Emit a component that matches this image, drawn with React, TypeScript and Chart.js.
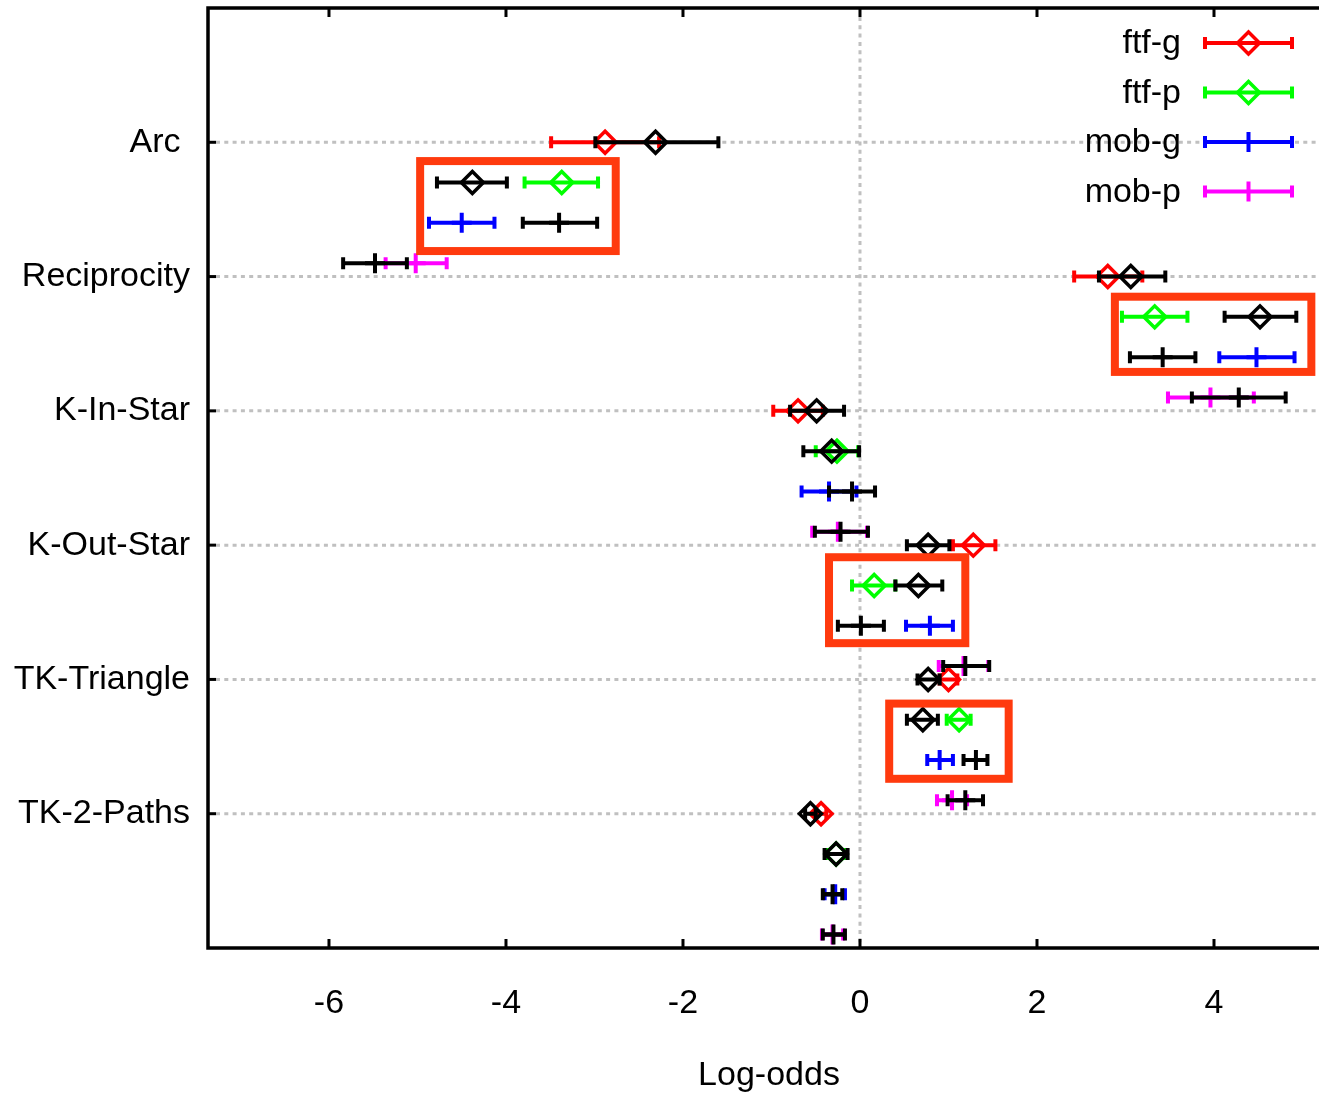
import React, { useEffect, useRef } from 'react';
import { Chart, registerables } from 'chart.js';

Chart.register(...registerables);

// ---------- data ----------
const categories = ['Arc ', 'Reciprocity', 'K-In-Star', 'K-Out-Star', 'TK-Triangle', 'TK-2-Paths'];
const seriesNames = ['ftf-g', 'ftf-p', 'mob-g', 'mob-p'];
const seriesColors = ['#ff0000', '#00ff00', '#0000ff', '#ff00ff'];
const seriesMarkers = ['rectRot', 'rectRot', 'cross', 'cross'];
const refColor = '#000000';
const xTickValues = [-6, -4, -2, 0, 2, 4];
const xAxisTitle = 'Log-odds';

// ftf-g (coloured) and its black comparison
const ftfG_est = [-2.88, 2.80, -0.70, 1.28, 1.00, -0.44];
const ftfG_lo = [-3.49, 2.42, -0.98, 1.05, 0.90, -0.50];
const ftfG_hi = [-2.27, 3.19, -0.42, 1.53, 1.10, -0.38];
const ftfG_ref_est = [-2.31, 3.06, -0.49, 0.77, 0.77, -0.56];
const ftfG_ref_lo = [-2.99, 2.70, -0.79, 0.53, 0.65, -0.62];
const ftfG_ref_hi = [-1.60, 3.45, -0.18, 1.01, 0.90, -0.50];

// ftf-p
const ftfP_est = [-3.37, 3.33, -0.26, 0.16, 1.12, -0.27];
const ftfP_lo = [-3.79, 2.96, -0.50, -0.09, 0.98, -0.38];
const ftfP_hi = [-2.96, 3.70, -0.02, 0.40, 1.25, -0.16];
const ftfP_ref_est = [-4.38, 4.52, -0.32, 0.66, 0.71, -0.27];
const ftfP_ref_lo = [-4.78, 4.12, -0.64, 0.40, 0.53, -0.40];
const ftfP_ref_hi = [-3.99, 4.93, -0.01, 0.93, 0.88, -0.14];

// mob-g
const mobG_est = [-4.50, 4.48, -0.35, 0.79, 0.90, -0.28];
const mobG_lo = [-4.87, 4.06, -0.66, 0.52, 0.76, -0.40];
const mobG_hi = [-4.13, 4.91, -0.04, 1.05, 1.05, -0.17];
const mobG_ref_est = [-3.40, 3.42, -0.09, 0.01, 1.31, -0.31];
const mobG_ref_lo = [-3.81, 3.05, -0.35, -0.25, 1.17, -0.42];
const mobG_ref_hi = [-2.97, 3.79, 0.17, 0.27, 1.44, -0.20];

// mob-p
const mobP_est = [-5.02, 3.96, -0.25, 1.17, 1.04, -0.31];
const mobP_lo = [-5.36, 3.48, -0.54, 0.89, 0.87, -0.43];
const mobP_hi = [-4.67, 4.45, 0.08, 1.45, 1.21, -0.19];
const mobP_ref_est = [-5.48, 4.28, -0.22, 1.19, 1.19, -0.30];
const mobP_ref_lo = [-5.84, 3.75, -0.51, 0.94, 0.99, -0.42];
const mobP_ref_hi = [-5.12, 4.81, 0.09, 1.46, 1.39, -0.17];

// highlight boxes in data units: [xMin, xMax, yMin, yMax]
const highlightBoxes = [
  [-4.97, -2.76, 0.14, 0.81],
  [2.88, 5.10, 1.15, 1.71],
  [-0.35, 1.19, 3.09, 3.73],
  [0.33, 1.68, 4.18, 4.74],
];

// ---------- layout constants ----------
const rowOffsets = [0, 0.3, 0.6, 0.9];
const FONT = '"Liberation Sans", Arial, Helvetica, sans-serif';
const FONT_SIZE = 34;
const CANVAS_W = 1330;
const CANVAS_H = 1099;

const seriesData = [
  { est: ftfG_est, lo: ftfG_lo, hi: ftfG_hi, rEst: ftfG_ref_est, rLo: ftfG_ref_lo, rHi: ftfG_ref_hi },
  { est: ftfP_est, lo: ftfP_lo, hi: ftfP_hi, rEst: ftfP_ref_est, rLo: ftfP_ref_lo, rHi: ftfP_ref_hi },
  { est: mobG_est, lo: mobG_lo, hi: mobG_hi, rEst: mobG_ref_est, rLo: mobG_ref_lo, rHi: mobG_ref_hi },
  { est: mobP_est, lo: mobP_lo, hi: mobP_hi, rEst: mobP_ref_est, rLo: mobP_ref_lo, rHi: mobP_ref_hi },
];

// draw sequence (first = bottom): coloured estimate, then black comparison on top
const drawSeq: { s: number; ref: boolean }[] = [
  { s: 0, ref: false }, { s: 0, ref: true },
  { s: 1, ref: false }, { s: 1, ref: true },
  { s: 2, ref: false }, { s: 2, ref: true },
  { s: 3, ref: false }, { s: 3, ref: true },
];

const DIAMOND_R = 11;
const CROSS_R = 10;

function buildDatasets() {
  return drawSeq.map((d, k) => {
    const sd = seriesData[d.s];
    const est = d.ref ? sd.rEst : sd.est;
    const lo = d.ref ? sd.rLo : sd.lo;
    const hi = d.ref ? sd.rHi : sd.hi;
    const color = d.ref ? refColor : seriesColors[d.s];
    const marker = seriesMarkers[d.s];
    return {
      label: d.ref ? seriesNames[d.s] + ' (ref)' : seriesNames[d.s],
      order: 100 - k,
      data: categories.map((_, i) => ({ x: est[i], y: i + rowOffsets[d.s], xMin: lo[i], xMax: hi[i] })),
      borderColor: color,
      backgroundColor: 'rgba(0,0,0,0)',
      pointStyle: marker,
      pointRadius: marker === 'cross' ? CROSS_R : DIAMOND_R,
      pointBorderWidth: marker === 'cross' ? 4 : 3.5,
      pointHoverRadius: marker === 'cross' ? CROSS_R : DIAMOND_R,
      showLine: false,
    };
  });
}

function drawErrorBar(ctx: CanvasRenderingContext2D, x1: number, x2: number, y: number, color: string) {
  ctx.save();
  ctx.strokeStyle = color;
  ctx.lineWidth = 4;
  ctx.lineCap = 'butt';
  ctx.setLineDash([]);
  ctx.beginPath();
  ctx.moveTo(x1, y);
  ctx.lineTo(x2, y);
  ctx.moveTo(x1, y - 6);
  ctx.lineTo(x1, y + 6);
  ctx.moveTo(x2, y - 6);
  ctx.lineTo(x2, y + 6);
  ctx.stroke();
  ctx.restore();
}

const errorBarPlugin = {
  id: 'errorBars',
  beforeDatasetDraw(chart: any, args: any) {
    const ds = chart.data.datasets[args.index];
    const xs = chart.scales.x;
    const ys = chart.scales.y;
    ds.data.forEach((p: any) => {
      drawErrorBar(
        chart.ctx,
        xs.getPixelForValue(p.xMin),
        xs.getPixelForValue(p.xMax),
        ys.getPixelForValue(p.y),
        ds.borderColor
      );
    });
  },
};

const framePlugin = {
  id: 'frame',
  beforeDatasetsDraw(chart: any) {
    const { ctx, chartArea } = chart;
    const xs = chart.scales.x;
    const ys = chart.scales.y;
    ctx.save();
    ctx.strokeStyle = '#c0c0c0';
    ctx.lineWidth = 3;
    ctx.setLineDash([4, 4.3]);
    categories.forEach((_, i) => {
      const y = ys.getPixelForValue(i);
      ctx.beginPath();
      ctx.moveTo(chartArea.left + 8, y);
      ctx.lineTo(chartArea.right, y);
      ctx.stroke();
    });
    const x0 = xs.getPixelForValue(0);
    ctx.beginPath();
    ctx.moveTo(x0, chartArea.top + 9);
    ctx.lineTo(x0, chartArea.bottom);
    ctx.stroke();
    ctx.restore();
  },
  afterDatasetsDraw(chart: any) {
    const { ctx, chartArea } = chart;
    const xs = chart.scales.x;
    const ys = chart.scales.y;
    ctx.save();
    // highlight boxes
    ctx.strokeStyle = '#ff3a0e';
    ctx.lineWidth = 8;
    highlightBoxes.forEach(([x1, x2, y1, y2]) => {
      const px1 = xs.getPixelForValue(x1);
      const px2 = xs.getPixelForValue(x2);
      const py1 = ys.getPixelForValue(y1);
      const py2 = ys.getPixelForValue(y2);
      ctx.strokeRect(px1, Math.min(py1, py2), px2 - px1, Math.abs(py2 - py1));
    });
    // frame
    ctx.strokeStyle = '#000';
    ctx.lineWidth = 3.5;
    ctx.strokeRect(chartArea.left, chartArea.top, chartArea.right - chartArea.left, chartArea.bottom - chartArea.top);
    // inward ticks
    ctx.lineWidth = 3;
    xTickValues.forEach((v) => {
      const x = xs.getPixelForValue(v);
      ctx.beginPath();
      ctx.moveTo(x, chartArea.top);
      ctx.lineTo(x, chartArea.top + 9);
      ctx.moveTo(x, chartArea.bottom);
      ctx.lineTo(x, chartArea.bottom - 9);
      ctx.stroke();
    });
    categories.forEach((_, i) => {
      const y = ys.getPixelForValue(i);
      ctx.beginPath();
      ctx.moveTo(chartArea.left, y);
      ctx.lineTo(chartArea.left + 8, y);
      ctx.stroke();
    });
    // legend
    const legendTextX = 1181;
    const sampleX1 = 1205;
    const sampleX2 = 1292;
    const sampleMid = (sampleX1 + sampleX2) / 2;
    ctx.font = `${FONT_SIZE}px ${FONT}`;
    ctx.textAlign = 'right';
    ctx.textBaseline = 'middle';
    seriesNames.forEach((name, k) => {
      const y = 43 + k * 49.5;
      ctx.fillStyle = '#000';
      ctx.fillText(name, legendTextX, y + 1);
      const color = seriesColors[k];
      drawErrorBar(ctx, sampleX1, sampleX2, y, color);
      ctx.strokeStyle = color;
      if (seriesMarkers[k] === 'rectRot') {
        const r = DIAMOND_R;
        ctx.lineWidth = 3.5;
        ctx.beginPath();
        ctx.moveTo(sampleMid, y - r);
        ctx.lineTo(sampleMid + r, y);
        ctx.lineTo(sampleMid, y + r);
        ctx.lineTo(sampleMid - r, y);
        ctx.closePath();
        ctx.stroke();
      } else {
        ctx.lineWidth = 4;
        ctx.beginPath();
        ctx.moveTo(sampleMid, y - CROSS_R);
        ctx.lineTo(sampleMid, y + CROSS_R);
        ctx.stroke();
      }
    });
    ctx.restore();
  },
};

export default function App() {
  const canvasRef = useRef<HTMLCanvasElement | null>(null);

  useEffect(() => {
    const canvas = canvasRef.current;
    if (!canvas) return;
    const chart = new Chart(canvas, {
      type: 'scatter',
      data: { datasets: buildDatasets() as any },
      options: {
        animation: false,
        responsive: false,
        maintainAspectRatio: false,
        layout: { autoPadding: false, padding: { top: 8, left: 0, right: 0, bottom: 0 } },
        plugins: {
          legend: { display: false },
          tooltip: { enabled: false },
        },
        scales: {
          x: {
            type: 'linear',
            min: -7.367,
            max: (CANVAS_W - 860) / 88.5,
            grid: { display: false },
            border: { display: false },
            ticks: {
              color: '#000',
              font: { family: FONT, size: FONT_SIZE },
              padding: 27,
              maxRotation: 0,
              autoSkip: false,
            },
            title: {
              display: true,
              text: xAxisTitle,
              color: '#000',
              font: { family: FONT, size: FONT_SIZE },
              padding: { top: 0, bottom: 3 },
            },
            afterBuildTicks: (scale: any) => {
              scale.ticks = xTickValues.map((v) => ({ value: v }));
            },
            afterFit: (scale: any) => {
              scale.height = 151;
              scale.paddingLeft = 0;
              scale.paddingRight = 0;
            },
          },
          y: {
            type: 'linear',
            reverse: true,
            min: -1,
            max: 6,
            grid: { display: false },
            border: { display: false },
            ticks: {
              color: '#000',
              font: { family: FONT, size: FONT_SIZE },
              padding: 10,
              autoSkip: false,
              callback: (v: any) => categories[v as number] ?? '',
            },
            afterBuildTicks: (scale: any) => {
              scale.ticks = categories.map((_, i) => ({ value: i }));
            },
            afterFit: (scale: any) => {
              scale.width = 208;
              scale.paddingTop = 0;
              scale.paddingBottom = 0;
            },
          },
        },
      },
      plugins: [errorBarPlugin, framePlugin],
    });
    return () => chart.destroy();
  }, []);

  return (
    <div
      style={{
        position: 'fixed',
        left: 0,
        top: 0,
        width: 1319,
        height: 1099,
        overflow: 'hidden',
        background: '#fff',
      }}
    >
      <canvas ref={canvasRef} width={CANVAS_W} height={CANVAS_H} style={{ display: 'block' }} />
    </div>
  );
}
